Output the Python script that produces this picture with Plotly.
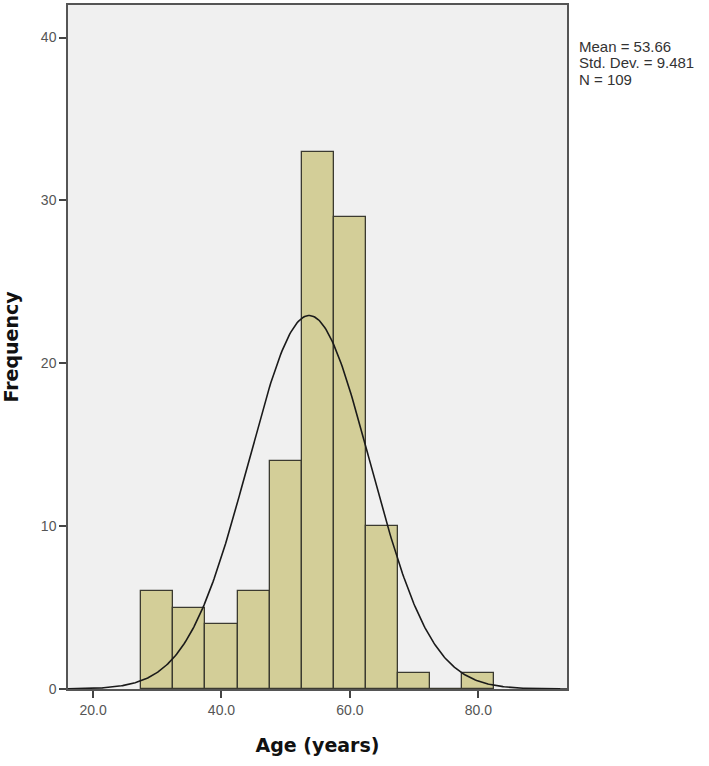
import numpy as np
import plotly.graph_objects as go

# age bins (centres, width 5) and counts
bin_centres = [30, 35, 40, 45, 50, 55, 60, 65, 70, 75, 80]
counts = [6, 5, 4, 6, 14, 33, 29, 10, 1, 0, 1]
bin_width = 5

mean_age = 53.66
sd_age = 9.481
n_total = 109

x_ticks = [20, 40, 60, 80]
x_tick_labels = ["20.0", "40.0", "60.0", "80.0"]
y_ticks = [0, 10, 20, 30, 40]

# fitted normal curve, scaled to counts
xs = np.linspace(16, 94, 400)
ys = n_total * bin_width / (sd_age * np.sqrt(2 * np.pi)) * np.exp(-0.5 * ((xs - mean_age) / sd_age) ** 2)

fig = go.Figure()
fig.add_trace(go.Bar(
    x=bin_centres, y=counts, width=bin_width,
    marker=dict(color="#D3CE98", line=dict(color="#3b3a30", width=1.3)),
    showlegend=False,
))
fig.add_trace(go.Scatter(
    x=xs, y=ys, mode="lines",
    line=dict(color="#1a1a1a", width=1.6),
    showlegend=False,
))

# stats box, one line per annotation for the tight spacing
stat_lines = [f"Mean = {mean_age}", f"Std. Dev. = {sd_age}", f"N = {n_total}"]
for i, txt in enumerate(stat_lines):
    fig.add_annotation(
        xref="paper", yref="paper", x=1.0, y=0.9395 - i * 0.0241, xshift=10,
        xanchor="left", yanchor="middle", align="left", showarrow=False,
        text=txt,
        font=dict(family="Liberation Sans, Arial", size=15, color="#333333"),
    )

axis_font = dict(family="Liberation Sans, Arial", size=14, color="#555555")
title_font = dict(family="DejaVu Sans", size=19, color="#111111")

fig.update_layout(
    width=709, height=766,
    margin=dict(l=68, r=142, t=3, b=77),
    paper_bgcolor="white", plot_bgcolor="#F0F0F0",
    bargap=0,
    xaxis=dict(
        range=[16.1, 93.8], tickvals=x_ticks, ticktext=x_tick_labels,
        ticks="outside", ticklen=7, tickwidth=1.5, tickcolor="#444444",
        showline=True, linecolor="#555555", linewidth=1.5, mirror=True,
        showgrid=False, zeroline=False, tickfont=axis_font,
        title=dict(text="<b>Age (years)</b>", font=title_font, standoff=22),
    ),
    yaxis=dict(
        range=[0, 42], tickvals=y_ticks,
        ticks="outside", ticklen=7, tickwidth=1.5, tickcolor="#444444",
        showline=True, linecolor="#555555", linewidth=1.5, mirror=True,
        showgrid=False, zeroline=False, tickfont=axis_font,
        title=dict(text="<b>Frequency</b>", font=title_font, standoff=20),
    ),
)

fig.write_html("out.html", config={"displayModeBar": False},
               post_script="document.body.style.margin='0';")
